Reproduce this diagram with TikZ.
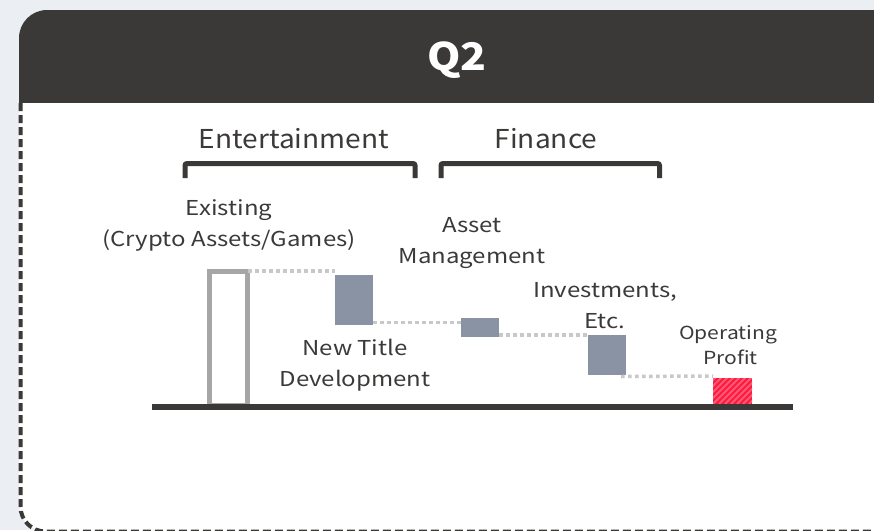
\documentclass[tikz,border=0pt]{standalone}
\usepackage{fontspec}
\setmainfont{Noto Sans CJK JP}
\newfontfamily\lblfont{Noto Sans CJK JP}[FakeStretch=1.17]
\newfontfamily\catfont{Noto Sans CJK JP}[FakeStretch=1.08]
\newfontfamily\qfont{Noto Sans CJK JP}[FakeStretch=1.12]
\usetikzlibrary{calc}
\definecolor{bgc}{HTML}{EBEEF3}
\definecolor{hdr}{HTML}{3A3937}
\definecolor{txt}{HTML}{3B3A38}
\definecolor{exg}{HTML}{A6A6A6}
\definecolor{dotg}{HTML}{C8C8C8}
\definecolor{barc}{HTML}{8A93A3}
\definecolor{redc}{HTML}{FF1A3C}
\definecolor{pinkc}{HTML}{FF5A78}
\tikzset{
  lbl/.style={font=\lblfont\fontsize{20.5}{31}\selectfont, text=txt, align=center, inner sep=0},
  cat/.style={font=\catfont\fontsize{26}{30}\selectfont, text=txt, inner sep=0},
  bar/.style={fill=barc, inner sep=0, outer sep=0, minimum width=38pt, anchor=north west},
  dotl/.style={draw=dotg, line width=3.5pt, dash pattern=on 3.5pt off 3.5pt},
  brk/.style={draw=hdr, line width=5pt, rounded corners=2pt},
}
\begin{document}
\begin{tikzpicture}[x=1pt,y=-1pt]
\useasboundingbox (0,0) rectangle (874,530);
\fill[bgc] (0,0) rectangle (874,530);
\begin{scope}
\clip (0,0) rectangle (874,530);
\fill[white, rounded corners=28pt] (19,10) rectangle (900,532);
\begin{scope}
\clip[rounded corners=28pt] (19,10) rectangle (900,532);
\fill[hdr] (0,0) rectangle (910,103);
\end{scope}
\draw[hdr, line width=4pt, dash pattern=on 8pt off 4pt, rounded corners=25pt] (20.5,103) -- (20.5,531.5) -- (900,531.5);
\end{scope}
\node[text=white, font=\qfont\fontsize{38}{40}\selectfont\bfseries, inner sep=0] (q2) at (457,60) {Q2};
% categories
\node[cat] (ent) at (294,139) {Entertainment};
\node[cat] (fin) at (546,139) {Finance};
\draw[brk] (185,178) -- (185,163.5) -- (415,163.5) -- (415,178);
\draw[brk] (441,178) -- (441,163.5) -- (659.5,163.5) -- (659.5,178);
% baseline
\coordinate (bl) at (152,407);
\coordinate (br) at (793,407);
% bars
\node[draw=exg, line width=5pt, inner sep=0, outer sep=0, minimum width=37.5pt, minimum height=134pt, anchor=north west] (ex) at (209.5,271) {};
\node[bar, minimum height=50pt] (nt) at (335,275) {};
\node[bar, minimum height=19pt] (am) at (461,318) {};
\node[bar, minimum height=40pt] (inv) at (588,335) {};
\begin{scope}
\node[inner sep=0, outer sep=0, minimum width=39pt, minimum height=26pt, anchor=north west, fill=redc] (op) at (713,378) {};
\clip (op.south west) rectangle (op.north east);
\foreach \i in {-30,-24,...,60} {
  \draw[pinkc, line width=1.8pt] ($(op.south west)+(\i,0)$) -- ++(30,-30);
}
\end{scope}
\draw[hdr, line width=6pt] (bl) -- (br);
% connectors
\draw[dotl] ($(ex.north east)+(1,0)$) -- (nt.north west |- ex.north east);
\draw[dotl] ($(nt.south east)+(0,-2.5)$) -- ($(am.west |- nt.south east)+(0,-2.5)$);
\draw[dotl] ($(am.south east)+(0,-2)$) -- (inv.north west);
\draw[dotl] ($(inv.south east)+(-5,1.5)$) -- ($(op.north west)+(0,-2)$);
% labels
\node[lbl] (exl) at (229,225) {Existing\\(Crypto Assets/Games)};
\node[lbl] (ntl) at (355,365) {New Title\\Development};
\node[lbl] (aml) at (472,243.5) {Asset\\Management};
\node[lbl] (invl) at (605,306) {Investments,\\Etc.};
\node[lbl, font=\lblfont\fontsize{18}{25}\selectfont] (opl) at (728,345) {Operating\\\ Profit};
\end{tikzpicture}
\end{document}
